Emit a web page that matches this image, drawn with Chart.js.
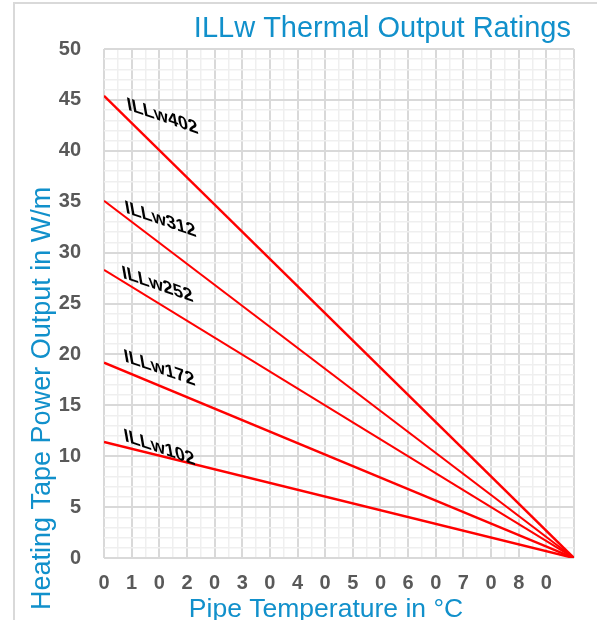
<!DOCTYPE html>
<html>
<head>
<meta charset="utf-8">
<title>ILLw Thermal Output Ratings</title>
<script src="https://cdn.jsdelivr.net/npm/chart.js@4.4.1/dist/chart.umd.min.js"></script>
<style>
  html, body { margin: 0; padding: 0; background: #fff; }
  #wrap { position: relative; width: 597px; height: 620px; overflow: hidden; }
  #frame { position: absolute; left: 13px; top: 2px; width: 700px; height: 700px;
           border-left: 2px solid #d9d9d9; border-top: 2px solid #d9d9d9; }
  canvas { position: absolute; left: 0; top: 0; }
</style>
</head>
<body>
<div id="wrap">
  <div id="frame"></div>
  <canvas id="lineChart" width="597" height="620"></canvas>
</div>
<script>
"use strict";

// chart values
const temps = [0, 85];
const illw402 = [45.4, 0];
const illw312 = [35.1, 0];
const illw252 = [28.3, 0];
const illw172 = [19.2, 0];
const illw102 = [11.4, 0];
const seriesNames = ["ILLw402", "ILLw312", "ILLw252", "ILLw172", "ILLw102"];

// tick labels as printed on the original
const xTickLabels = ["0", "1", "0", "2", "0", "3", "0", "4", "0", "5", "0", "6", "0", "7", "0", "8", "0"];
const yTickLabels = ["0", "5", "10", "15", "20", "25", "30", "35", "40", "45", "50"];

const chartTitle = "ILLw Thermal Output Ratings";
const xTitle = "Pipe Temperature in °C";
const yTitle = "Heating Tape Power Output in W/m";

const BLUE = "#1190cb";
const TICK = "#595959";
const MAJOR = "#d9d9d9";
const MINOR = "#efefef";
const FONT = "'Liberation Sans', Arial, sans-serif";

const allSeries = [illw402, illw312, illw252, illw172, illw102];
const widths = [2.5, 2, 2, 2.5, 2.5];
// where each name sits, relative to the left end of its line (px)
const labelNudge = [[24, 14], [22, 12], [19, 8], [21, -1], [21, -1]];

const toPoints = (vals) => vals.map((v, i) => ({ x: temps[i], y: v }));

const textLayer = {
  id: "textLayer",
  afterDatasetsDraw(chart) {
    const { ctx, chartArea } = chart;
    ctx.save();

    // line names, slanted like the original
    ctx.fillStyle = "#000";
    ctx.font = "bold 19px " + FONT;
    ctx.textAlign = "left";
    ctx.textBaseline = "alphabetic";
    const rot = 19 * Math.PI / 180;
    const slant = 10 * Math.PI / 180;
    seriesNames.forEach((name, i) => {
      const p = chart.getDatasetMeta(i).data[0];
      ctx.save();
      ctx.transform(Math.cos(rot), Math.sin(rot), Math.sin(slant), Math.cos(slant),
        p.x + labelNudge[i][0], p.y + labelNudge[i][1]);
      ctx.fillText(name, 0, 0);
      ctx.restore();
    });

    // titles
    ctx.fillStyle = BLUE;
    ctx.font = "29px " + FONT;
    ctx.textAlign = "right";
    ctx.fillText(chartTitle, chartArea.right - 3, 37);

    ctx.font = "26.5px " + FONT;
    ctx.textAlign = "center";
    ctx.fillText(xTitle, 326, 617);

    ctx.font = "27px " + FONT;
    ctx.textAlign = "left";
    ctx.translate(50, 610);
    ctx.rotate(-Math.PI / 2);
    ctx.fillText(yTitle, 0, 0);

    ctx.restore();
  },
};

const ctx = document.getElementById("lineChart").getContext("2d");

new Chart(ctx, {
  type: "line",
  data: {
    datasets: allSeries.map((vals, i) => ({
      label: seriesNames[i],
      data: toPoints(vals),
      borderColor: "#ff0000",
      borderWidth: widths[i],
      pointRadius: 0,
      fill: false,
      tension: 0,
    })),
  },
  options: {
    responsive: false,
    animation: false,
    devicePixelRatio: 1,
    layout: { padding: { left: 0, top: 49, right: 23, bottom: 0 } },
    plugins: {
      legend: { display: false },
      tooltip: { enabled: false },
    },
    scales: {
      x: {
        type: "linear",
        min: 0,
        max: 85,
        afterFit: (scale) => { scale.height = 62; },
        border: { display: false },
        grid: {
          drawTicks: false,
          color: (c) => (c.tick && c.tick.value % 5 === 0 ? MAJOR : MINOR),
          lineWidth: (c) => (c.tick && c.tick.value % 5 === 0 ? 2 : 1.5),
        },
        ticks: {
          stepSize: 2.5,
          autoSkip: false,
          maxRotation: 0,
          padding: 13,
          color: TICK,
          font: { family: FONT, size: 20, weight: "bold" },
          callback: (v) => (v % 5 === 0 ? (xTickLabels[v / 5] || "") : ""),
        },
      },
      y: {
        min: 0,
        max: 50,
        afterFit: (scale) => { scale.width = 104; },
        border: { display: false },
        grid: {
          drawTicks: false,
          color: (c) => (c.tick && c.tick.value % 5 === 0 ? MAJOR : MINOR),
          lineWidth: (c) => (c.tick && c.tick.value % 5 === 0 ? 2 : 1.5),
        },
        ticks: {
          stepSize: 1,
          autoSkip: false,
          padding: 23,
          color: TICK,
          font: { family: FONT, size: 20, weight: "bold" },
          callback: (v) => (v % 5 === 0 ? yTickLabels[v / 5] : ""),
        },
      },
    },
  },
  plugins: [textLayer],
});
</script>
</body>
</html>
